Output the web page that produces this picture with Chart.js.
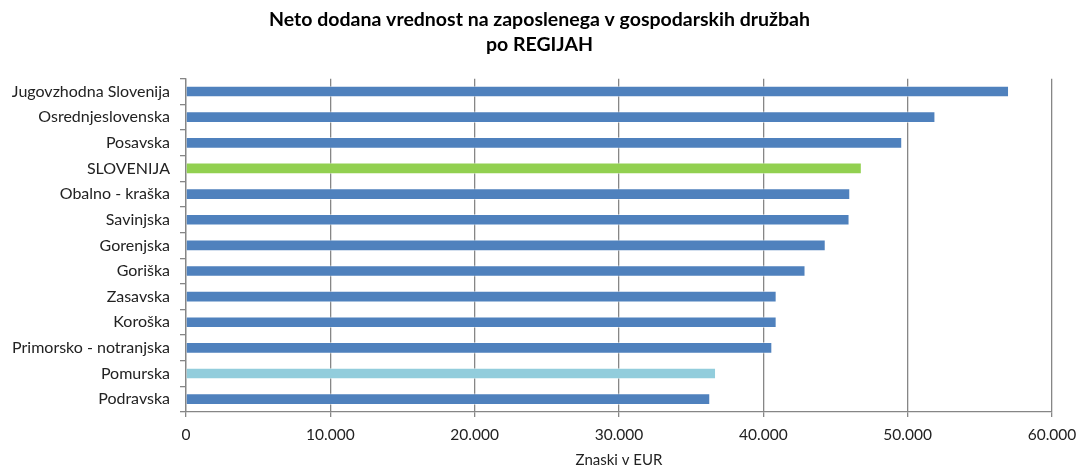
<!DOCTYPE html>
<html>
<head>
<meta charset="utf-8">
<script src="https://cdn.jsdelivr.net/npm/chart.js@4"></script>
<style>
  html, body { margin: 0; padding: 0; background: #fff; }
  #wrap { width: 1079px; height: 468px; }
</style>
</head>
<body>
<div id="wrap"><canvas id="myChart" width="1079" height="468"></canvas></div>
<script>
// regions, top to bottom as drawn
var regije = ["Jugovzhodna Slovenija", "Osrednjeslovenska", "Posavska", "SLOVENIJA",
  "Obalno - kraška", "Savinjska", "Gorenjska", "Goriška", "Zasavska", "Koroška",
  "Primorsko - notranjska", "Pomurska", "Podravska"];
var vrednosti = [57000, 51900, 49600, 46800, 46000, 45950, 44300, 42900, 40900, 40900, 40600, 36700, 36300];
var barve = ["#4f81bd", "#4f81bd", "#4f81bd", "#92d050", "#4f81bd", "#4f81bd", "#4f81bd",
  "#4f81bd", "#4f81bd", "#4f81bd", "#4f81bd", "#92cddc", "#4f81bd"];
var xTicks = [0, 10000, 20000, 30000, 40000, 50000, 60000];

var font = "Lato, 'Open Sans', sans-serif";

new Chart("myChart", {
  type: "bar",
  data: {
    labels: regije,
    datasets: [{
      data: vrednosti,
      backgroundColor: barve,
      borderColor: "rgba(255,255,255,0.45)",
      borderWidth: 1,
      barThickness: 11
    }]
  },
  options: {
    indexAxis: "y",
    responsive: false,
    animation: false,
    layout: { padding: 0 },
    plugins: {
      legend: { display: false },
      tooltip: { enabled: false },
      title: {
        display: true,
        text: ["Neto dodana vrednost na zaposlenega v gospodarskih družbah", "po REGIJAH"],
        color: "#000",
        font: { family: font, size: 19.5, weight: "bold", lineHeight: 1.3 },
        padding: { top: 7, bottom: 21 }
      }
    },
    scales: {
      x: {
        min: 0,
        max: 60000,
        afterBuildTicks: function (s) { s.ticks = xTicks.map(function (v) { return { value: v }; }); },
        afterFit: function (s) { s.height = 56; s.paddingLeft = 0; s.paddingRight = 27; },
        ticks: {
          color: "#222",
          font: { family: font, size: 15.5 },
          padding: 9,
          maxRotation: 0,
          callback: function (v) { return v.toLocaleString("de-DE"); }
        },
        grid: { color: "#868686", lineWidth: 1.3, tickLength: 5 },
        border: { color: "#868686", width: 1.3 },
        title: {
          display: true,
          text: "Znaski v EUR",
          color: "#222",
          font: { family: font, size: 15, lineHeight: 1 },
          padding: { top: 0, bottom: 0 }
        }
      },
      y: {
        afterFit: function (s) { s.width = 186; },
        ticks: {
          color: "#222",
          font: { family: font, size: 16 },
          padding: 10
        },
        grid: { offset: true, drawOnChartArea: false, color: "#868686", lineWidth: 1.3, tickLength: 6 },
        border: { color: "#868686", width: 1.3 }
      }
    }
  }
});
</script>
</body>
</html>
